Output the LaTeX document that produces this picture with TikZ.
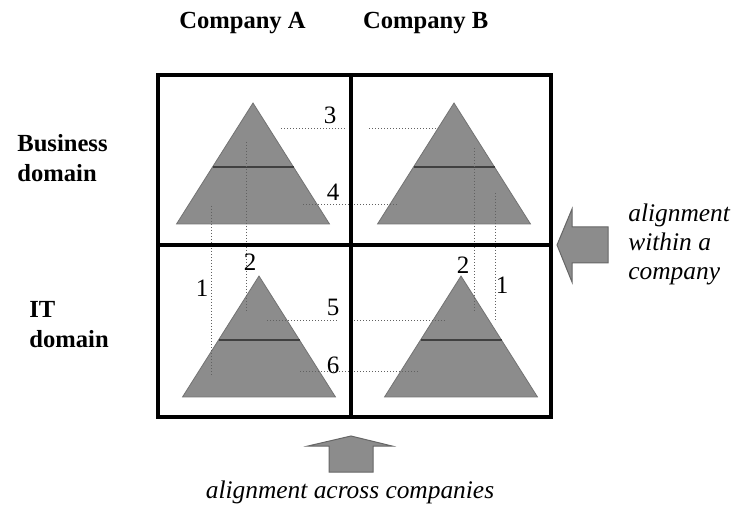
\documentclass[tikz,border=0pt]{standalone}
\usepackage{fontspec}
\setmainfont{Liberation Serif}

\begin{document}
\begin{tikzpicture}[x=0.5pt, y=-0.5pt,
    pyr/.style={fill=black!45, draw=black!55, line width=0.4pt},
    tier/.style={draw=black!75, line width=0.6pt},
    frame/.style={draw, line width=2pt},
    link/.style={densely dotted, draw=black!62, line width=0.5pt},
    fat/.style={fill=black!45, draw=black!60, line width=0.5pt},
    num/.style={font=\fontsize{12.5}{15}\selectfont, inner sep=0pt},
    head/.style={font=\fontsize{12.3}{15}\selectfont\bfseries, inner sep=0pt},
    note/.style={font=\fontsize{12.7}{14.5}\selectfont\itshape, inner sep=0pt, align=left},
]
\useasboundingbox (0,0) rectangle (735,508);

% Headings
\node[head, anchor=base] (compA) at (242.5,29) {Company A};
\node[head, anchor=base] (compB) at (425.7,29) {Company B};
\node[head, anchor=base west, align=left] (biz) at (17,182) {Business\\domain};
\node[head, anchor=base west, align=left] (itd) at (29,348) {IT\\domain};

% Pyramids
\coordinate (bizA) at (253,103);
\coordinate (bizB) at (454,103);
\coordinate (itA) at (259,276);
\coordinate (itB) at (461,276);
\foreach \p in {bizA, bizB, itA, itB} {
    \filldraw[pyr] (\p) -- ++(-76.5,121) -- ++(153,0) -- cycle;
    \draw[tier] ([shift={(-40.5,64)}]\p) -- ++(81,0);
}

% Alignment lines
\coordinate (h3a) at (281,129); \coordinate (h3b) at (347,129);
\coordinate (h3c) at (369,129); \coordinate (h3d) at (436,129);
\coordinate (h4a) at (303,205); \coordinate (h4b) at (398,205);
\coordinate (h5a) at (267,321); \coordinate (h5b) at (338,321);
\coordinate (h5c) at (354,321); \coordinate (h5d) at (445,321);
\coordinate (h6a) at (300,372); \coordinate (h6b) at (419,372);
\coordinate (vA1a) at (211,206); \coordinate (vA1b) at (211,377);
\coordinate (vA2a) at (246,142); \coordinate (vA2b) at (246,312);
\coordinate (vB2a) at (474,148); \coordinate (vB2b) at (474,313);
\coordinate (vB1a) at (495,193); \coordinate (vB1b) at (495,322);
\draw[link] (h3a) -- (h3b);
\draw[link] (h3c) -- (h3d);
\draw[link] (h4a) -- (h4b);
\draw[link] (h5a) -- (h5b);
\draw[link] (h5c) -- (h5d);
\draw[link] (h6a) -- (h6b);
\draw[link] (vA1a) -- (vA1b);
\draw[link] (vA2a) -- (vA2b);
\draw[link] (vB2a) -- (vB2b);
\draw[link] (vB1a) -- (vB1b);

% Numbers
\node[num] (n3) at (330,115) {3};
\node[num] (n4) at (333,192) {4};
\node[num] (n5) at (333,307) {5};
\node[num] (n6) at (333,365) {6};
\node[num] (n1a) at (202,288) {1};
\node[num] (n2a) at (250,262) {2};
\node[num] (n2b) at (463,265) {2};
\node[num] (n1b) at (502,285) {1};

% Frame
\coordinate (nw) at (158,75);
\coordinate (se) at (551,417);
\coordinate (mid) at (351,245);
\draw[frame] (nw) rectangle (se);
\draw[frame] (nw -| mid) -- (se -| mid);
\draw[frame] (nw |- mid) -- (se |- mid);

% Arrows
\filldraw[fat] (557,245) -- (572,209) -- (572,227) -- (608,227) -- (608,263)
    -- (572,263) -- (572,282) -- cycle;
\filldraw[fat] (351,436) -- (392,446) -- (373,446) -- (373,472) -- (329,472)
    -- (329,446) -- (308,446) -- cycle;
\node[note, anchor=base west] (within) at (628,280) {alignment\\within a\\company};
\node[note, anchor=base] (across) at (350,498) {alignment across companies};

\end{tikzpicture}
\end{document}
